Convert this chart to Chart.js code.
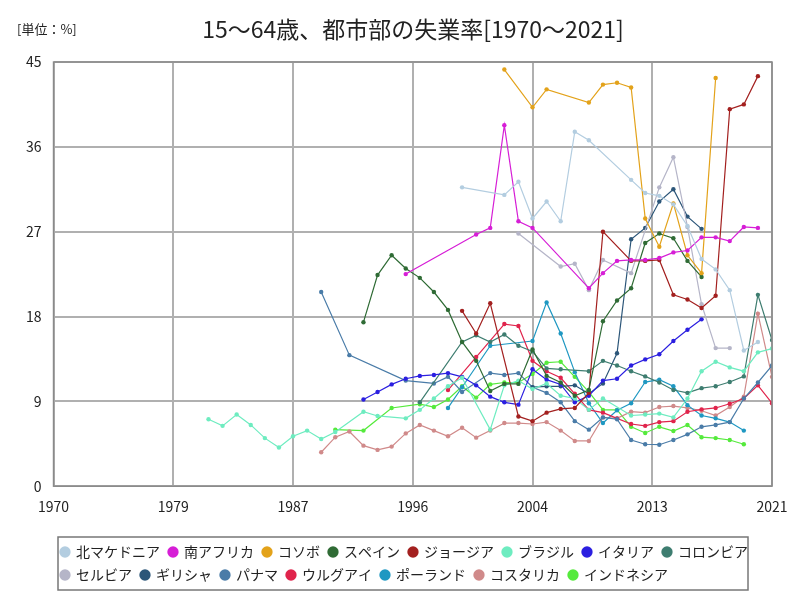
<!DOCTYPE html>
<html lang="ja">
<head>
    <meta charset="UTF-8">
    <title>15～64歳、都市部の失業率</title>
    <script src="https://cdn.jsdelivr.net/npm/chart.js"></script>
    <style>
        body {
            margin: 0;
            background: #ffffff;
        }
        #wrap {
            width: 800px;
            height: 600px;
        }
    </style>
</head>
<body>
    <div id="wrap"><canvas id="chart" width="800" height="600"></canvas></div>

    <script>
        "use strict";

        // [年, 失業率%] の組
        const northMacedonia = [[1999, 31.7], [2002, 30.9], [2003, 32.3], [2004, 28.4], [2005, 30.2], [2006, 28.1], [2007, 37.6], [2008, 36.7], [2011, 32.5], [2012, 31.1], [2013, 30.8], [2014, 29.9], [2015, 27.6], [2016, 24.1], [2017, 23.0], [2018, 20.8], [2019, 14.4], [2020, 15.3]];
        const southAfrica = [[1995, 22.5], [2000, 26.7], [2001, 27.4], [2002, 38.3], [2003, 28.1], [2004, 27.4], [2008, 21.0], [2009, 22.6], [2010, 23.9], [2011, 24.0], [2012, 24.0], [2013, 24.2], [2014, 24.8], [2015, 25.0], [2016, 26.4], [2017, 26.4], [2018, 26.0], [2019, 27.5], [2020, 27.4]];
        const kosovo = [[2002, 44.2], [2004, 40.2], [2005, 42.1], [2008, 40.7], [2009, 42.6], [2010, 42.8], [2011, 42.3], [2012, 28.4], [2013, 25.4], [2014, 30.0], [2015, 24.5], [2016, 22.6], [2017, 43.3]];
        const spain = [[1992, 17.4], [1993, 22.4], [1994, 24.5], [1995, 23.1], [1996, 22.1], [1997, 20.6], [1998, 18.7], [1999, 15.3], [2000, 13.3], [2001, 10.1], [2002, 10.85], [2003, 10.85], [2004, 14.5], [2005, 11.7], [2006, 11.0], [2007, 9.6], [2008, 10.2], [2009, 17.5], [2010, 19.7], [2011, 21.0], [2012, 25.8], [2013, 26.8], [2014, 26.3], [2015, 23.9], [2016, 22.2]];
        const georgia = [[1999, 18.6], [2000, 16.2], [2001, 19.4], [2003, 7.4], [2004, 6.9], [2005, 7.8], [2006, 8.2], [2007, 8.3], [2008, 9.9], [2009, 27.0], [2011, 23.9], [2012, 23.9], [2013, 24.0], [2014, 20.3], [2015, 19.8], [2016, 18.9], [2017, 20.2], [2018, 40.0], [2019, 40.5], [2020, 43.5]];
        const brazil = [[1981, 7.1], [1982, 6.4], [1983, 7.6], [1984, 6.5], [1985, 5.1], [1986, 4.1], [1987, 5.3], [1988, 5.9], [1989, 5.0], [1990, 5.75], [1992, 7.9], [1993, 7.45], [1995, 7.2], [1996, 8.1], [1997, 9.3], [1998, 10.6], [1999, 11.5], [2001, 6.0], [2002, 10.7], [2003, 11.2], [2004, 10.3], [2005, 10.9], [2006, 9.6], [2007, 9.3], [2008, 8.1], [2009, 9.3], [2011, 7.5], [2012, 7.6], [2013, 7.7], [2014, 7.3], [2015, 9.3], [2016, 12.2], [2017, 13.2], [2018, 12.6], [2019, 12.2], [2020, 14.2], [2021, 14.6]];
        const italy = [[1992, 9.2], [1993, 10.0], [1994, 10.8], [1995, 11.4], [1996, 11.7], [1997, 11.8], [1998, 12.0], [1999, 11.6], [2000, 10.7], [2001, 9.5], [2002, 8.9], [2003, 8.65], [2004, 12.4], [2005, 11.3], [2006, 10.8], [2007, 8.9], [2008, 9.6], [2009, 11.2], [2010, 11.4], [2011, 12.8], [2012, 13.45], [2013, 14.0], [2014, 15.4], [2015, 16.6], [2016, 17.7]];
        const colombia = [[1996, 8.9], [1999, 15.3], [2000, 16.0], [2001, 15.3], [2002, 16.1], [2003, 14.9], [2004, 14.3], [2005, 12.5], [2006, 12.4], [2008, 12.2], [2009, 13.3], [2010, 12.8], [2011, 12.2], [2012, 11.65], [2013, 11.0], [2014, 10.2], [2015, 9.9], [2016, 10.4], [2017, 10.6], [2018, 11.05], [2019, 11.65], [2020, 20.3], [2021, 15.5]];
        const serbia = [[2003, 26.8], [2006, 23.3], [2007, 23.6], [2008, 20.8], [2009, 24.0], [2011, 22.6], [2013, 31.7], [2014, 34.9], [2015, 27.5], [2016, 19.3], [2017, 14.65], [2018, 14.65]];
        const greece = [[2004, 10.5], [2005, 10.6], [2006, 10.6], [2007, 10.7], [2008, 9.8], [2009, 10.9], [2010, 14.1], [2011, 26.2], [2012, 27.4], [2013, 30.2], [2014, 31.5], [2015, 28.6], [2016, 27.3]];
        const panama = [[1989, 20.6], [1991, 13.9], [1995, 11.2], [1997, 10.9], [1998, 11.6], [1999, 10.0], [2001, 12.0], [2002, 11.8], [2003, 12.0], [2004, 10.5], [2005, 9.9], [2006, 8.9], [2007, 6.9], [2008, 6.0], [2009, 7.3], [2010, 7.1], [2011, 4.9], [2012, 4.45], [2013, 4.4], [2014, 4.9], [2015, 5.5], [2016, 6.3], [2017, 6.5], [2018, 6.8], [2019, 9.3], [2020, 11.0], [2021, 12.8]];
        const uruguay = [[1998, 10.2], [2000, 13.7], [2002, 17.2], [2003, 17.0], [2004, 13.3], [2005, 12.2], [2006, 11.5], [2007, 9.8], [2008, 8.1], [2009, 7.8], [2010, 7.2], [2011, 6.6], [2012, 6.4], [2013, 6.8], [2014, 6.9], [2015, 7.9], [2016, 8.15], [2017, 8.3], [2018, 8.75], [2019, 9.3], [2020, 10.7], [2021, 8.8]];
        const poland = [[1998, 8.3], [1999, 10.5], [2001, 14.9], [2004, 15.4], [2005, 19.5], [2006, 16.2], [2007, 12.1], [2008, 8.8], [2009, 6.7], [2010, 8.05], [2011, 8.8], [2012, 11.05], [2013, 11.3], [2014, 10.6], [2015, 8.6], [2016, 7.5], [2017, 7.2], [2018, 6.8], [2019, 5.9]];
        const costaRica = [[1989, 3.6], [1990, 5.2], [1991, 5.8], [1992, 4.3], [1993, 3.85], [1994, 4.2], [1995, 5.6], [1996, 6.5], [1997, 5.9], [1998, 5.3], [1999, 6.2], [2000, 5.15], [2001, 5.9], [2002, 6.7], [2003, 6.7], [2004, 6.6], [2005, 6.8], [2006, 5.9], [2007, 4.8], [2008, 4.8], [2009, 7.3], [2010, 7.2], [2011, 7.9], [2012, 7.8], [2013, 8.4], [2014, 8.5], [2015, 8.3], [2016, 8.0], [2017, 7.5], [2018, 8.4], [2019, 9.5], [2020, 18.3], [2021, 11.6]];
        const indonesia = [[1990, 6.0], [1992, 5.9], [1994, 8.3], [1996, 8.7], [1997, 8.4], [1998, 9.2], [1999, 10.6], [2000, 9.4], [2001, 10.8], [2002, 11.0], [2003, 11.0], [2004, 11.9], [2005, 13.1], [2006, 13.2], [2007, 11.6], [2008, 10.0], [2009, 8.1], [2010, 8.1], [2011, 6.3], [2012, 5.65], [2013, 6.3], [2014, 5.85], [2015, 6.5], [2016, 5.2], [2017, 5.1], [2018, 4.9], [2019, 4.45]];

        const seriesNames = ['北マケドニア', '南アフリカ', 'コソボ', 'スペイン', 'ジョージア', 'ブラジル', 'イタリア', 'コロンビア',
            'セルビア', 'ギリシャ', 'パナマ', 'ウルグアイ', 'ポーランド', 'コスタリカ', 'インドネシア'];
        const seriesData = [northMacedonia, southAfrica, kosovo, spain, georgia, brazil, italy, colombia,
            serbia, greece, panama, uruguay, poland, costaRica, indonesia];
        const seriesColors = ['#b3cde0', '#d61ed6', '#e3a21a', '#2f6b35', '#a3201f', '#6eecc0', '#2b1fe0', '#3e7d70',
            '#b5b5c8', '#2c5679', '#4a7ca8', '#e0244c', '#1f98c2', '#d08a8a', '#55ea3c'];

        const yearMin = 1970;
        const yearMax = 2021;

        const FONT = "'Noto Sans CJK JP', 'Noto Sans', sans-serif";

        // タイトル・単位ラベル・外枠
        const framePlugin = {
            id: 'frame',
            afterLayout(chart) {
                // 凡例を右へずらす（左揃えの開始位置を合わせる）
                chart.legend.left += 38;
                chart.legend.right += 38;
            },
            afterDraw(chart) {
                const ctx = chart.ctx;
                const area = chart.chartArea;
                ctx.save();
                ctx.strokeStyle = '#8a8a8a';
                ctx.lineWidth = 1.5;
                ctx.strokeRect(area.left, area.top, area.right - area.left, area.bottom - area.top);

                const boxes = chart.legend.legendHitBoxes;
                if (boxes && boxes.length) {
                    let t = Infinity, b = -Infinity;
                    boxes.forEach(h => {
                        t = Math.min(t, h.top);
                        b = Math.max(b, h.top + h.height);
                    });
                    ctx.strokeStyle = '#777777';
                    ctx.lineWidth = 1.5;
                    ctx.strokeRect(58, t - 8, 690, b - t + 16);
                }

                ctx.fillStyle = '#222222';
                ctx.textBaseline = 'middle';
                ctx.textAlign = 'left';
                ctx.font = '13px ' + FONT;
                ctx.fillText('[単位：%]', 17, 29);
                ctx.textAlign = 'center';
                ctx.font = '23px ' + FONT;
                ctx.fillText('15～64歳、都市部の失業率[1970～2021]', 413, 29);
                ctx.restore();
            }
        };

        const datasets = seriesData.map((rows, i) => ({
            label: seriesNames[i],
            data: rows.map(r => ({ x: r[0], y: r[1] })),
            borderColor: seriesColors[i],
            backgroundColor: seriesColors[i],
            pointBackgroundColor: seriesColors[i],
            pointBorderColor: seriesColors[i],
            borderWidth: 1.2,
            pointRadius: 2.2,
            pointBorderWidth: 0,
            tension: 0,
            fill: false
        }));

        new Chart(document.getElementById('chart'), {
            type: 'line',
            data: { datasets },
            options: {
                responsive: false,
                animation: false,
                devicePixelRatio: 1,
                layout: { padding: { left: 14, right: 28, top: 62, bottom: 8 } },
                plugins: {
                    title: { display: false },
                    legend: {
                        position: 'bottom',
                        align: 'start',
                        labels: {
                            usePointStyle: true,
                            pointStyle: 'circle',
                            boxWidth: 8,
                            boxHeight: 8,
                            padding: 9,
                            color: '#222222',
                            font: { family: FONT, size: 14 }
                        }
                    },
                    tooltip: { enabled: false }
                },
                scales: {
                    x: {
                        type: 'linear',
                        min: yearMin,
                        max: yearMax,
                        afterFit: s => { s.height += 9; },
                        ticks: {
                            stepSize: (yearMax - yearMin) / 6,
                            color: '#222222',
                            padding: 12,
                            font: { family: FONT, size: 14 },
                            maxRotation: 0,
                            callback: v => String(Math.round(v))
                        },
                        grid: { color: '#b0b0b0', lineWidth: 2, drawTicks: false },
                        border: { display: false }
                    },
                    y: {
                        min: 0,
                        max: 45,
                        ticks: {
                            stepSize: 9,
                            color: '#222222',
                            padding: 12,
                            font: { family: FONT, size: 14 }
                        },
                        grid: { color: '#b0b0b0', lineWidth: 2, drawTicks: false },
                        border: { display: false }
                    }
                }
            },
            plugins: [framePlugin]
        });
    </script>
</body>
</html>
